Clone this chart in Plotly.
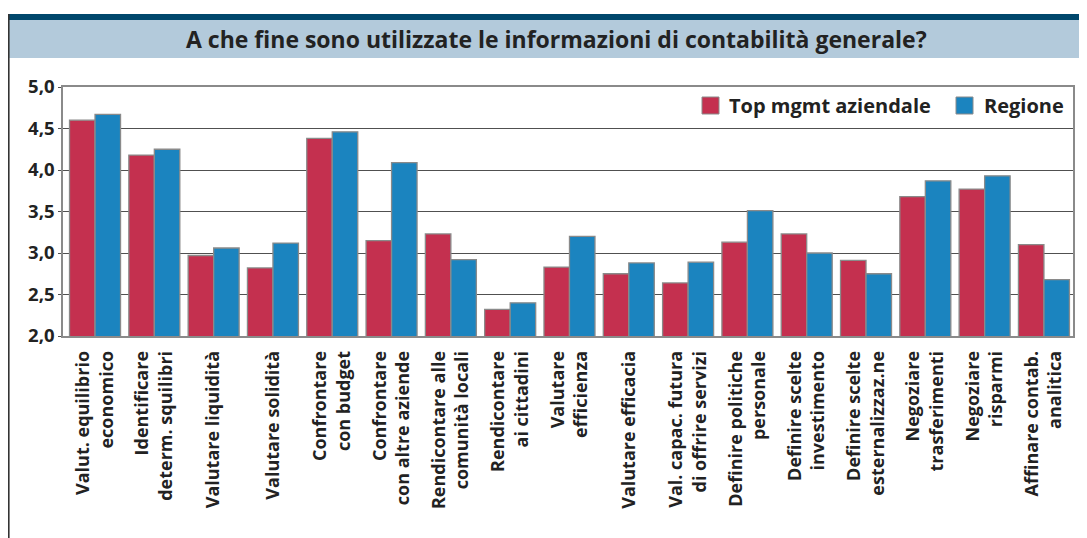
import plotly.graph_objects as go

categories = [
    "Valut. equilibrio<br>economico",
    "Identificare<br>determ. squilibri",
    "Valutare liquidità",
    "Valutare solidità",
    "Confrontare<br>con budget",
    "Confrontare<br>con altre aziende",
    "Rendicontare alle<br>comunità locali",
    "Rendicontare<br>ai cittadini",
    "Valutare<br>efficienza",
    "Valutare efficacia",
    "Val. capac. futura<br>di offrire servizi",
    "Definire politiche<br>personale",
    "Definire scelte<br>investimento",
    "Definire scelte<br>esternalizzaz.ne",
    "Negoziare<br>trasferimenti",
    "Negoziare<br>risparmi",
    "Affinare contab.<br>analitica",
]
top_mgmt = [4.60, 4.18, 2.97, 2.82, 4.38, 3.15, 3.23, 2.32, 2.83, 2.75,
            2.64, 3.13, 3.23, 2.91, 3.68, 3.77, 3.10]
regione = [4.67, 4.25, 3.06, 3.12, 4.46, 4.09, 2.92, 2.40, 3.20, 2.88,
           2.89, 3.51, 3.00, 2.75, 3.87, 3.93, 2.68]
series_names = ["Top mgmt aziendale", "Regione"]
y_ticks = [2.0, 2.5, 3.0, 3.5, 4.0, 4.5, 5.0]
title_text = "A che fine sono utilizzate le informazioni di contabilità generale?"

RED = "#c4304f"
BLUE = "#1b84bf"
FONT = "Open Sans"
WEIGHT = "bold"

# page offset (browser body margin)
OFF = 8
W, H = 1087 - OFF, 538 - OFF
# plot area in page coordinates: x 63..1073, y 87..336
PL, PR, PT, PB = 63, 1073, 87, 336
ML = PL - OFF
MR = 1087 - PR
MT = PT - OFF
MB = 538 - PB
PW = PR - PL
PH = PB - PT


def px(x):
    return (x - PL) / PW


def py(y):
    return (PB - y) / PH


fig = go.Figure()
for name, vals, col in [(series_names[0], top_mgmt, RED), (series_names[1], regione, BLUE)]:
    fig.add_trace(go.Bar(
        x=categories, y=vals, name=name,
        marker=dict(color=col, line=dict(color="#8a8a8a", width=1.3)),
        showlegend=False,
    ))

shapes = [
    dict(type="rect", xref="paper", yref="paper", x0=px(8), x1=px(1090), y0=py(20), y1=py(14),
         fillcolor="#00476c", line=dict(width=0), layer="above"),
    dict(type="rect", xref="paper", yref="paper", x0=px(8), x1=px(1090), y0=py(58), y1=py(20),
         fillcolor="#b3cadb", line=dict(width=0), layer="above"),
    dict(type="line", xref="paper", yref="paper", x0=px(8.8), x1=px(8.8), y0=py(540), y1=py(14),
         line=dict(color="#333333", width=1.6), layer="above"),
    dict(type="rect", xref="paper", yref="paper", x0=px(702), x1=px(719), y0=py(114), y1=py(97),
         fillcolor=RED, line=dict(color="#8a8a8a", width=1), layer="above"),
    dict(type="rect", xref="paper", yref="paper", x0=px(956), x1=px(973), y0=py(114), y1=py(97),
         fillcolor=BLUE, line=dict(color="#8a8a8a", width=1), layer="above"),
]

annotations = [
    dict(text=title_text, xref="paper", yref="paper", x=px(556), y=py(39),
         xanchor="center", yanchor="middle", showarrow=False,
         font=dict(family=FONT, size=23, color="#222222", weight=WEIGHT)),
    dict(text=series_names[0], xref="paper", yref="paper", x=px(727), y=py(105),
         xanchor="left", yanchor="middle", showarrow=False,
         font=dict(family=FONT, size=20, color="#222222", weight=WEIGHT)),
    dict(text=series_names[1], xref="paper", yref="paper", x=px(982), y=py(105),
         xanchor="left", yanchor="middle", showarrow=False,
         font=dict(family=FONT, size=20, color="#222222", weight=WEIGHT)),
]

fig.update_layout(
    width=W, height=H,
    margin=dict(l=ML, r=MR, t=MT, b=MB, pad=0),
    paper_bgcolor="white", plot_bgcolor="white",
    barmode="group", bargap=0.14, bargroupgap=0,
    separators=",.",
    shapes=shapes, annotations=annotations,
    font=dict(family=FONT, color="#222222"),
)
fig.update_xaxes(
    type="category", range=[-0.54, 16.49],
    tickangle=-90, tickfont=dict(family=FONT, size=18, color="#222222", weight=WEIGHT),
    showline=True, linecolor="#8a8a8a", linewidth=1.5, mirror=True,
    ticks="", showgrid=False, ticklabelstandoff=6,
)
fig.update_yaxes(
    range=[2.0, 5.0], tickvals=y_ticks, tickformat=".1f",
    tickfont=dict(family=FONT, size=18.5, color="#222222", weight=WEIGHT),
    showline=True, linecolor="#8a8a8a", linewidth=1.5, mirror=True,
    showgrid=True, gridcolor="#505050", gridwidth=1,
    ticks="outside", ticklen=3, tickcolor="#505050",
    zeroline=False,
)

fig.write_html("out.html")
